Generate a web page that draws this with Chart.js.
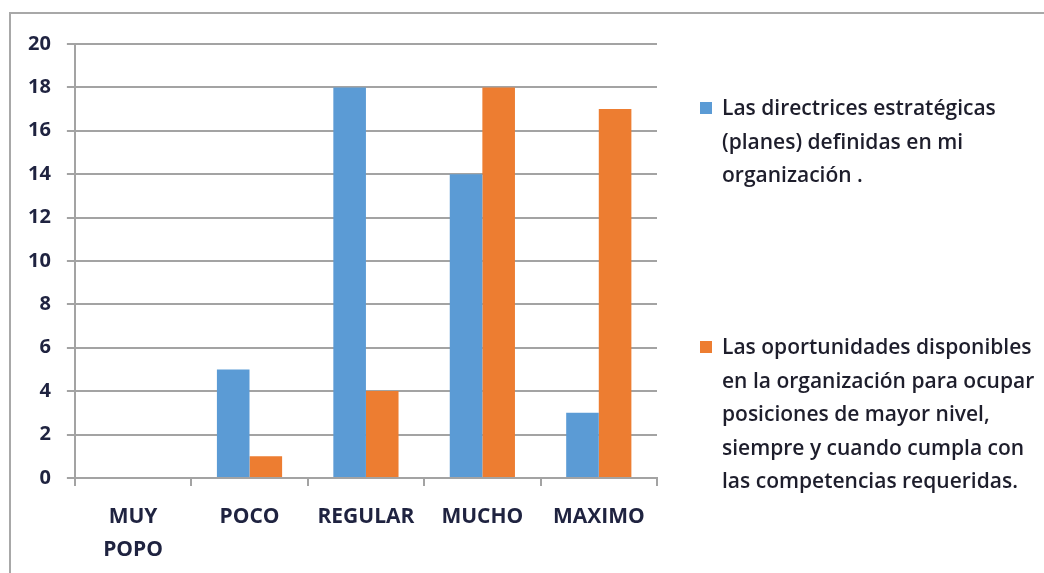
<!DOCTYPE html>
<html>
<head>
<meta charset="utf-8">
<script src="https://cdn.jsdelivr.net/npm/chart.js@4/dist/chart.umd.min.js"></script>
<style>
  body { margin: 0; background: #fff; }
  #wrap { position: relative; width: 1044px; height: 573px; overflow: hidden; }
  #frame { position: absolute; left: 9px; top: 12px; width: 1100px; height: 600px;
           border-top: 2px solid #a8a8a8; border-left: 2px solid #a8a8a8; }
  #chart { position: absolute; left: 0; top: 0; }
  .legend-item { position: absolute; left: 700px; font-family: "Open Sans", sans-serif;
                 font-size: 21px; font-weight: 600; line-height: 33.5px; color: #1e1e2c; }
  .legend-item .box { position: absolute; left: 0; top: 11px; width: 12px; height: 12px; }
  .legend-item .txt { margin-left: 22px; white-space: nowrap; }
</style>
</head>
<body>
<div id="wrap">
  <div id="frame"></div>
  <canvas id="chart" width="1044" height="584"></canvas>
  <div id="legend"></div>
</div>
<script>
var categories = [['MUY', 'POPO'], 'POCO', 'REGULAR', 'MUCHO', 'MAXIMO'];
var directrices = [0, 5, 18, 14, 3];
var oportunidades = [0, 1, 4, 18, 17];
var seriesNames = [
    ['Las directrices estratégicas', '(planes) definidas en mi', 'organización .'],
    ['Las oportunidades disponibles', 'en la organización para ocupar', 'posiciones de mayor nivel,', 'siempre y cuando cumpla con', 'las competencias requeridas.']
];
var seriesColors = ['#5b9bd5', '#ed7d31'];
var legendTops = [91, 330];

var textColor = '#1f2340';
var gridColor = '#a3a3a3';

window.onload = function() {
    drawLegend();
    drawChart();
};

function drawLegend() {
    const legend = document.getElementById('legend');
    seriesNames.forEach((lines, i) => {
        const item = document.createElement('div');
        item.classList.add('legend-item');
        item.style.top = legendTops[i] + 'px';
        item.innerHTML = `<div class="box" style="background:${seriesColors[i]}"></div>` +
            `<div class="txt">${lines.join('<br>')}</div>`;
        legend.appendChild(item);
    });
}

function drawChart() {
    const ctx = document.getElementById('chart').getContext('2d');
    window.myChart = new Chart(ctx, {
        type: 'bar',
        data: {
            labels: categories,
            datasets: [
                { label: seriesNames[0].join(' '), data: directrices, backgroundColor: seriesColors[0] },
                { label: seriesNames[1].join(' '), data: oportunidades, backgroundColor: seriesColors[1] }
            ]
        },
        options: {
            responsive: false,
            animation: false,
            datasets: { bar: { categoryPercentage: 0.56, barPercentage: 1.0 } },
            layout: { padding: { top: 44, right: 387, bottom: 3, left: 12 } },
            plugins: { legend: { display: false }, tooltip: { enabled: false } },
            scales: {
                x: {
                    grid: { display: true, drawOnChartArea: false, color: gridColor, lineWidth: 2, tickLength: 8 },
                    border: { color: gridColor, width: 2 },
                    ticks: {
                        color: textColor, padding: 15, maxRotation: 0,
                        font: { family: 'Open Sans', size: 21, weight: 'bold', lineHeight: 1.55 }
                    }
                },
                y: {
                    min: 0, max: 20,
                    grid: { color: gridColor, lineWidth: 2, tickLength: 8 },
                    border: { color: gridColor, width: 2 },
                    ticks: {
                        stepSize: 2, color: textColor, padding: 16,
                        font: { family: 'Open Sans', size: 20, weight: 'bold' }
                    }
                }
            }
        }
    });
}
</script>
</body>
</html>
